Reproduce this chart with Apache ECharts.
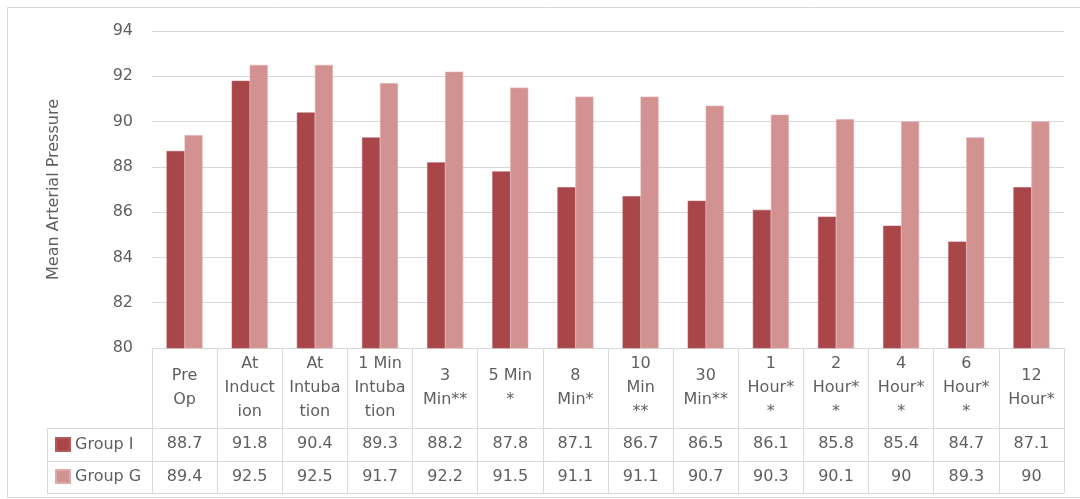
<!DOCTYPE html>
<html>
<head>
<meta charset="utf-8">
<script src="https://cdn.jsdelivr.net/npm/echarts@6/dist/echarts.min.js"></script>
<style>
  html, body { margin: 0; padding: 0; background: #ffffff; }
  #chart { width: 1080px; height: 499px; }
</style>
</head>
<body>
<div id="chart"></div>
<script>
// Time points (header row of the data table, with significance marks)
const categories = [
  'Pre\nOp', 'At\nInduct\nion', 'At\nIntuba\ntion', '1 Min\nIntuba\ntion',
  '3\nMin**', '5 Min\n*', '8\nMin*', '10\nMin\n**', '30\nMin**',
  '1\nHour*\n*', '2\nHour*\n*', '4\nHour*\n*', '6\nHour*\n*', '12\nHour*'
];
// Mean arterial pressure per group
const groupI = [88.7, 91.8, 90.4, 89.3, 88.2, 87.8, 87.1, 86.7, 86.5, 86.1, 85.8, 85.4, 84.7, 87.1];
const groupG = [89.4, 92.5, 92.5, 91.7, 92.2, 91.5, 91.1, 91.1, 90.7, 90.3, 90.1, 90, 89.3, 90];
// Value axis ticks
const yTicks = [80, 82, 84, 86, 88, 90, 92, 94];

const FONT = '"DejaVu Sans", "Open Sans", sans-serif';
const FS = 16;
const TEXT = '#5f5f5f';
const RULE = '#d9d9d9';

// Plot/table geometry
const W = 1080, H = 499;
const gridLeft = 152, gridRight = 16, gridTop = 31, gridBottom = 151;
const axisY = H - gridBottom;          // top edge of the data table
const headerH = 80, rowH = 32.5;
const tableRight = W - gridRight;
const legendLeft = 47;

const chart = echarts.init(document.getElementById('chart'), null, { renderer: 'canvas' });

// Extra category axes whose labels form the value rows of the data table
const valueAxis = (values, centerOffset) => ({
  type: 'category',
  gridIndex: 0,
  position: 'bottom',
  data: categories,
  axisLine: { show: false },
  axisTick: { show: false },
  splitLine: { show: false },
  axisLabel: {
    interval: 0,
    margin: centerOffset,
    verticalAlign: 'middle',
    color: TEXT,
    fontFamily: FONT,
    fontSize: FS,
    formatter: (v, i) => String(values[i])
  }
});

const hRule = (y, x1) => ({
  type: 'line',
  shape: { x1: x1, y1: y, x2: tableRight, y2: y },
  style: { stroke: RULE, lineWidth: 1 },
  silent: true
});

chart.setOption({
  animation: false,
  textStyle: { fontFamily: FONT },
  grid: { left: gridLeft, right: gridRight, top: gridTop, bottom: gridBottom, containLabel: false },
  legend: {
    orient: 'vertical',
    left: 55,
    top: axisY + headerH + 8,
    padding: 0,
    itemWidth: 14,
    itemHeight: 13,
    itemGap: 15,
    icon: 'rect',
    textStyle: { color: TEXT, fontFamily: FONT, fontSize: FS, lineHeight: 17 },
    data: ['Group I', 'Group G']
  },
  xAxis: [
    {
      type: 'category',
      data: categories,
      boundaryGap: true,
      axisLine: { show: true, lineStyle: { color: RULE, width: 1 } },
      axisTick: {
        show: true,
        interval: 0,
        length: headerH + 2 * rowH,
        lineStyle: { color: RULE, width: 1 }
      },
      axisLabel: {
        interval: 0,
        margin: headerH / 2,
        verticalAlign: 'middle',
        lineHeight: 24,
        color: TEXT,
        fontFamily: FONT,
        fontSize: FS
      }
    },
    valueAxis(groupI, headerH + rowH / 2),
    valueAxis(groupG, headerH + rowH * 1.5)
  ],
  yAxis: {
    type: 'value',
    min: 80,
    max: 94,
    interval: 2,
    name: 'Mean Arterial Pressure',
    nameLocation: 'middle',
    nameGap: 90,
    nameTextStyle: { color: TEXT, fontFamily: FONT, fontSize: FS },
    axisLine: { show: false },
    axisTick: { show: false },
    axisLabel: {
      color: TEXT,
      fontFamily: FONT,
      fontSize: FS,
      margin: 19,
      formatter: v => (yTicks.includes(v) ? String(v) : '')
    },
    splitLine: { lineStyle: { color: RULE, width: 1 } }
  },
  series: [
    {
      name: 'Group I',
      type: 'bar',
      data: groupI,
      barWidth: 18,
      barGap: '0%',
      itemStyle: { color: '#a8464a', borderColor: '#b45a5d', borderWidth: 0.6 }
    },
    {
      name: 'Group G',
      type: 'bar',
      data: groupG,
      barWidth: 18,
      itemStyle: { color: '#d39292', borderColor: '#e0aaaa', borderWidth: 0.6 }
    }
  ],
  graphic: [
    // chart frame
    {
      type: 'rect',
      shape: { x: 7.5, y: 7.5, width: W, height: H - 9 },
      style: { fill: null, stroke: RULE, lineWidth: 1 },
      silent: true,
      z: -1
    },
    // data table rows (extended under the legend column)
    hRule(Math.round(axisY + headerH) + 0.5, legendLeft),
    hRule(Math.round(axisY + headerH + rowH) + 0.5, legendLeft),
    hRule(Math.round(axisY + headerH + 2 * rowH) + 0.5, legendLeft),
    {
      type: 'line',
      shape: {
        x1: legendLeft + 0.5, y1: Math.round(axisY + headerH) + 0.5,
        x2: legendLeft + 0.5, y2: Math.round(axisY + headerH + 2 * rowH) + 0.5
      },
      style: { stroke: RULE, lineWidth: 1 },
      silent: true
    }
  ]
});
</script>
</body>
</html>
